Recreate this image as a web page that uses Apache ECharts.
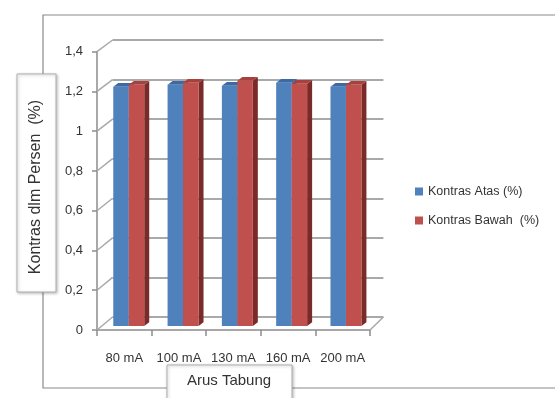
<!DOCTYPE html>
<html>
<head>
<meta charset="utf-8">
<script src="https://cdn.jsdelivr.net/npm/echarts@6/dist/echarts.min.js"></script>
<style>
html,body{margin:0;padding:0;background:#fff;}
#Case{width:555px;height:398px;}
</style>
</head>
<body>
<div id="Case"></div>
<script>
// data
var categories   = ['80 mA', '100 mA', '130 mA', '160 mA', '200 mA'];
var kontrasAtas  = [1.205, 1.215, 1.21, 1.225, 1.205];
var kontrasBawah = [1.215, 1.225, 1.235, 1.22, 1.215];
var seriesNames  = ['Kontras Atas (%)', 'Kontras Bawah  (%)'];
var yMin = 0, yMax = 1.4, yStep = 0.2;

// layout of the fake 3d box
var front = {left: 97, top: 51.7, width: 273, height: 278.3};
var back  = {left: 112.6, top: 40, width: 270.8, height: 277};
var plane = {left: 101.6, top: 48, width: 271.5, height: 278};
var FONT = 'Liberation Sans';

var myChart = echarts.init(document.getElementById('Case'), null, {renderer: 'canvas'});

function toData(arr){
	var out = [];
	for (var i = 0; i < arr.length; i++){ out.push([i, arr[i]]); }
	return out;
}

// 3d column: front face, top and right side
function makeBar(side, cFront, cTop, cSide){
	return function(params, api){
		var c = api.coord([api.value(0), api.value(1)]);
		var b = api.coord([api.value(0), 0]);
		var band = api.size([1, 0])[0];
		var w = band * 0.285;
		var dx = 5, dy = -3.8;
		var x0 = side < 0 ? c[0] - w : c[0];
		var x1 = x0 + w;
		var y = c[1], y0 = b[1];
		return {
			type: 'group',
			children: [
				{type: 'polygon', shape: {points: [[x1, y], [x1 + dx, y + dy], [x1 + dx, y0 + dy], [x1, y0]]}, style: {fill: cSide}},
				{type: 'polygon', shape: {points: [[x0, y], [x0 + dx, y + dy], [x1 + dx, y + dy], [x1, y]]}, style: {fill: cTop}},
				{type: 'rect', shape: {x: x0, y: y, width: w, height: y0 - y}, style: {fill: cFront}}
			]
		};
	};
}

var option = {
	animation: false,
	backgroundColor: '#fff',
	legend: {
		orient: 'vertical',
		left: 410,
		top: 180,
		itemWidth: 8,
		itemHeight: 8,
		itemGap: 16,
		icon: 'rect',
		data: seriesNames,
		textStyle: {fontFamily: FONT, fontSize: 12.5, color: '#333'}
	},
	grid: [
		{left: front.left, top: front.top, width: front.width, height: front.height},
		{left: back.left, top: back.top, width: back.width, height: back.height},
		{left: plane.left, top: plane.top, width: plane.width, height: plane.height}
	],
	xAxis: [
		{
			gridIndex: 0, type: 'category', data: categories,
			axisLine: {lineStyle: {color: '#8c8c8c', width: 1.5}},
			axisTick: {show: true, interval: 0, length: 6, lineStyle: {color: '#8c8c8c', width: 1.5}},
			axisLabel: {interval: 0, margin: 22, color: '#333', fontFamily: FONT, fontSize: 13}
		},
		{gridIndex: 1, type: 'category', data: categories, show: false},
		{gridIndex: 2, type: 'category', data: categories, show: false}
	],
	yAxis: [
		{
			gridIndex: 0, type: 'value', min: yMin, max: yMax, interval: yStep,
			axisLine: {show: true, lineStyle: {color: '#8c8c8c', width: 1.5}},
			axisTick: {show: true, length: 5, lineStyle: {color: '#8c8c8c', width: 1.5}},
			splitLine: {show: false},
			axisLabel: {
				margin: 14, color: '#333', fontFamily: FONT, fontSize: 13,
				formatter: function(v){ return String(Math.round(v * 10) / 10).replace('.', ','); }
			}
		},
		{
			gridIndex: 1, type: 'value', min: yMin, max: yMax, interval: yStep,
			axisLine: {show: false}, axisTick: {show: false}, axisLabel: {show: false},
			splitLine: {show: true, lineStyle: {color: '#a9a9a9', width: 1.8}}
		},
		{gridIndex: 2, type: 'value', min: yMin, max: yMax, interval: yStep, show: false}
	],
	series: [
		{
			name: seriesNames[0], type: 'custom', xAxisIndex: 2, yAxisIndex: 2,
			itemStyle: {color: '#4f81bd'},
			renderItem: makeBar(-1, '#4f81bd', '#3d6aa4', '#345d90'),
			data: toData(kontrasAtas), z: 5
		},
		{
			name: seriesNames[1], type: 'custom', xAxisIndex: 2, yAxisIndex: 2,
			itemStyle: {color: '#c0504d'},
			renderItem: makeBar(1, '#c0504d', '#a8413e', '#7a2a28'),
			data: toData(kontrasBawah), z: 6
		}
	]
};
myChart.setOption(option);

// diagonal edges joining the front axis to the back wall, plus frame and titles
var gfx = [];
gfx.push({type: 'rect', z: -10, shape: {x: 43, y: 15, width: 600, height: 373}, style: {fill: 'none', stroke: '#8a8a8a', lineWidth: 1.2}});
for (var v = yMin; v <= yMax + 1e-9; v += yStep){
	var yf = myChart.convertToPixel({yAxisIndex: 0}, v);
	var yb = myChart.convertToPixel({yAxisIndex: 1}, v);
	gfx.push({type: 'line', z: 1, shape: {x1: front.left, y1: yf, x2: back.left, y2: yb}, style: {stroke: '#a9a9a9', lineWidth: 1.5}});
}
var yf0 = myChart.convertToPixel({yAxisIndex: 0}, yMin);
var yb0 = myChart.convertToPixel({yAxisIndex: 1}, yMin);
gfx.push({type: 'line', z: 1, shape: {x1: front.left + front.width, y1: yf0, x2: back.left + back.width, y2: yb0}, style: {stroke: '#a9a9a9', lineWidth: 1.5}});

// y title box
gfx.push({type: 'rect', z: 10, shape: {x: 17, y: 74, width: 39, height: 218},
	style: {fill: '#fff', stroke: '#b0b0b0', lineWidth: 1, shadowBlur: 3, shadowColor: 'rgba(0,0,0,0.25)', shadowOffsetX: 1, shadowOffsetY: 1}});
gfx.push({type: 'text', z: 11, x: 36, y: 187, rotation: Math.PI / 2,
	style: {text: 'Kontras dlm Persen  (%)', fill: '#333', font: '16px "' + FONT + '"', align: 'center', verticalAlign: 'middle'}});
// x title box
gfx.push({type: 'rect', z: 10, shape: {x: 167, y: 365, width: 125, height: 40},
	style: {fill: '#fff', stroke: '#b0b0b0', lineWidth: 1, shadowBlur: 3, shadowColor: 'rgba(0,0,0,0.25)', shadowOffsetX: 1, shadowOffsetY: 1}});
gfx.push({type: 'text', z: 11, x: 229, y: 381,
	style: {text: 'Arus Tabung', fill: '#333', font: '15px "' + FONT + '"', align: 'center', verticalAlign: 'middle'}});

myChart.setOption({graphic: gfx});
</script>
</body>
</html>
